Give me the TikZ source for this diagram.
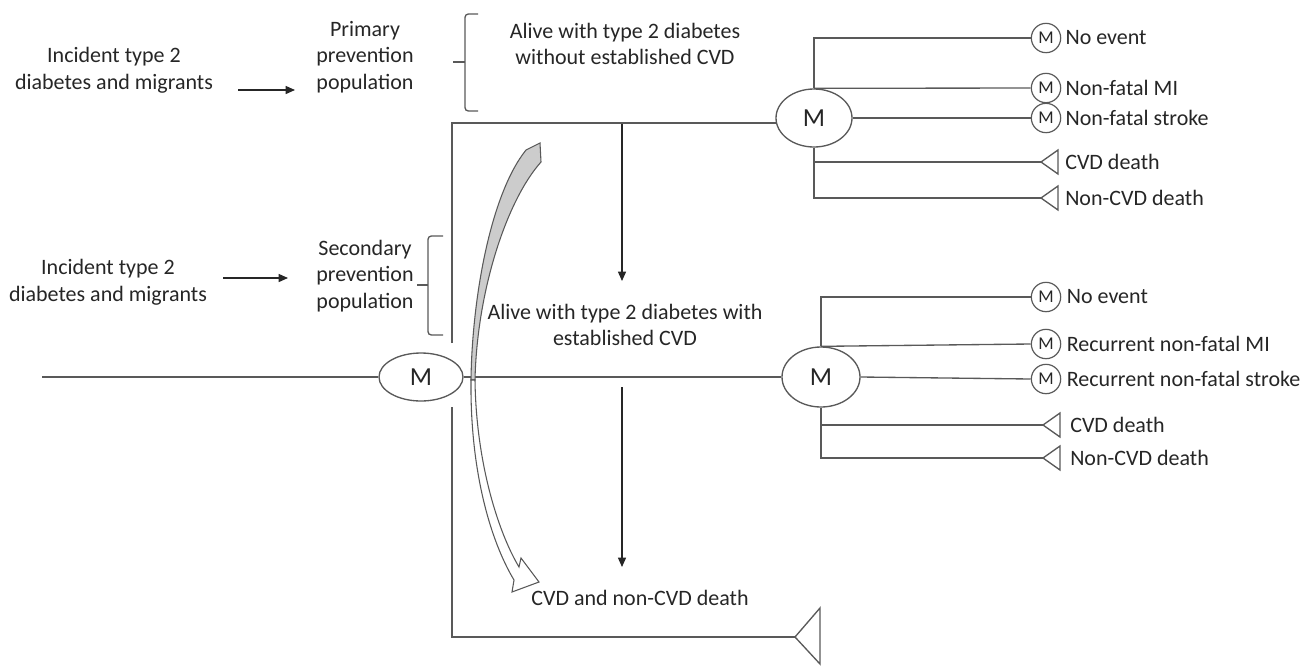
\documentclass[tikz,border=0pt]{standalone}
\usepackage{fontspec}
\setmainfont{Carlito}
\usetikzlibrary{arrows.meta,shapes.geometric}
\begin{document}
\begin{tikzpicture}[x=0.75pt,y=-0.75pt,
  ln/.style={draw=black!65,line width=1pt},
  txt/.style={font=\fontsize{16.5}{20}\selectfont,text=black!85,align=center,inner sep=0},
  lab/.style={font=\fontsize{16.5}{20}\selectfont,text=black!85,anchor=west,inner sep=0},
  bigm/.style={ellipse,draw=black!65,line width=1pt,inner sep=0,font=\fontsize{19.5}{20}\selectfont,text=black!85},
  smm/.style={circle,draw=black!65,line width=0.9pt,minimum size=22pt,inner sep=0,font=\fontsize{13.5}{14}\selectfont,text=black!85},
  arr/.style={ln,draw=black!85,-{Triangle[length=7pt,width=6pt]}},
  tri/.pic={\draw[ln] (0,0) -- (17,-12) -- (17,12) -- cycle;}
]
\useasboundingbox (0,0) rectangle (1307,665);

% texts
\node[txt] (inc1) at (114,70) {Incident type 2\\diabetes and migrants};
\node[txt] (prim) at (365,57) {Primary\\prevention\\population};
\node[txt] (inc2) at (108,282) {Incident type 2\\diabetes and migrants};
\node[txt] (sec) at (365,276) {Secondary\\prevention\\population};
\node[txt] (alive1) at (625,44) {Alive with type 2 diabetes\\without established CVD};
\node[txt] (alive2) at (625,325) {Alive with type 2 diabetes with\\established CVD};
\node[txt] (death) at (640,598) {CVD and non-CVD death};

% left arrows
\coordinate (a1s) at (238,90); \coordinate (a1e) at (295,90);
\draw[arr] (a1s) -- (a1e);
\coordinate (a2s) at (223,278); \coordinate (a2e) at (288,278);
\draw[arr] (a2s) -- (a2e);

% braces
\draw[ln,rounded corners=2.5pt] (478,14) -- (465,14) -- (465,111) -- (478,111);
\draw[ln] (453,62) -- (465,62);
\draw[ln,rounded corners=2.5pt] (443,236) -- (428,236) -- (428,335) -- (443,335);
\draw[ln] (417,285) -- (428,285);

% Markov nodes
\node[bigm,minimum width=63pt,minimum height=36pt] (Ml) at (421,377) {M};
\node[bigm,minimum width=57pt,minimum height=43.5pt] (M1) at (814,118) {M};
\node[bigm,minimum width=58.5pt,minimum height=45pt] (M2) at (821,377) {M};

% main lines
\coordinate (start) at (42,377);
\draw[ln] (start) -- (Ml.west);
\draw[ln] (Ml.east) -- (M2.west);
\coordinate (rtl) at (452,123);
\coordinate (g1) at (452,343);
\coordinate (g2) at (452,407);
\coordinate (rbl) at (452,637);
\draw[ln] (g1) -- (rtl) -- ([xshift=0.6pt]rtl -| M1.west);
\coordinate (T0) at (795,637);
\draw[ln] (g2) -- (rbl) -- (T0);
\draw[ln] (T0) -- (820,608) -- (820,664) -- cycle;

% vertical arrows
\coordinate (v1s) at (622,124); \coordinate (v1e) at (622,281);
\draw[arr] (v1s) -- (v1e);
\coordinate (v2s) at (622,387); \coordinate (v2e) at (622,567);
\draw[arr] (v2s) -- (v2e);

% curved block arrow
\draw[ln,line width=0.8pt,fill=gray!40]
  (471,380) .. controls (472,300) and (490,195) .. (526,150)
  -- (540,143) -- (541,162)
  .. controls (507,200) and (477,290) .. (475,380) -- cycle;
\draw[ln,line width=0.8pt,fill=white]
  (471,380) .. controls (470,470) and (490,540) .. (514,580)
  -- (512,592) -- (539,582) -- (521,558) -- (519,567)
  .. controls (497,530) and (476,460) .. (475,380) -- cycle;

% upper branch
\node[smm] (c1) at (1046,38) {M};
\node[smm] (c2) at (1046,88) {M};
\node[smm] (c3) at (1046,118) {M};
\coordinate (t1) at (1041,162);
\coordinate (t2) at (1041,198);
\pic at (t1) {tri};
\pic at (t2) {tri};
\draw[ln] (M1.north) -- (M1.north |- c1) -- (c1.west);
\draw[ln] (M1.north) -- (c2.west);
\draw[ln] (M1.east) -- (c3.west);
\draw[ln] (M1.south) -- (M1.south |- t2) -- (t2);
\draw[ln] (M1.south |- t1) -- (t1);
\node[lab] at ([xshift=3pt]c1.east) {No event};
\node[lab] at ([xshift=3pt]c2.east) {Non-fatal MI};
\node[lab] at ([xshift=3pt]c3.east) {Non-fatal stroke};
\node[lab] at (1065,162) {CVD death};
\node[lab] at (1065,198) {Non-CVD death};

% lower branch
\node[smm] (d1) at (1046,297) {M};
\node[smm] (d2) at (1046,344) {M};
\node[smm] (d3) at (1046,379) {M};
\coordinate (u1) at (1043,425);
\coordinate (u2) at (1043,458);
\pic at (u1) {tri};
\pic at (u2) {tri};
\draw[ln] (M2.north) -- (M2.north |- d1) -- (d1.west);
\draw[ln] (M2.north) -- (d2.west);
\draw[ln] (M2.east) -- (d3.west);
\draw[ln] (M2.south) -- (M2.south |- u2) -- (u2);
\draw[ln] (M2.south |- u1) -- (u1);
\node[lab] at ([xshift=4pt]d1.east) {No event};
\node[lab] at ([xshift=4pt]d2.east) {Recurrent non-fatal MI};
\node[lab] at ([xshift=4pt]d3.east) {Recurrent non-fatal stroke};
\node[lab] at (1070,425) {CVD death};
\node[lab] at (1070,458) {Non-CVD death};
\end{tikzpicture}
\end{document}
